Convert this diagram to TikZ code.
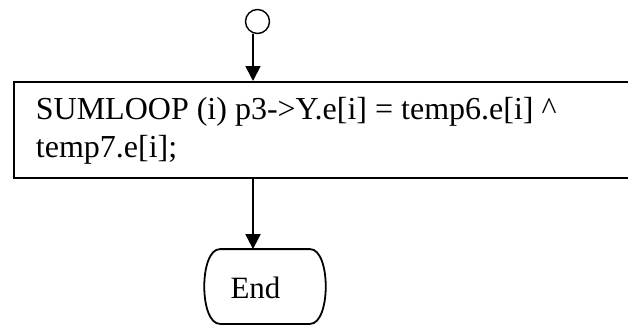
\documentclass[tikz,border=0pt]{standalone}
\usepackage{fontspec}
\setmainfont{Liberation Serif}
\usetikzlibrary{arrows.meta}
\begin{document}
\begin{tikzpicture}[x=1pt,y=1pt,
  line width=1.8pt,
  conn/.style={-{Triangle[length=15pt,width=15pt]}},
  txt/.style={font=\fontsize{31}{38}\selectfont,inner sep=0pt}]
\useasboundingbox (0,0) rectangle (628,-324);
\node[draw,circle,minimum size=24pt,inner sep=0pt,line width=1.4pt] (start) at (257.5,-21.5) {};
\node[draw,minimum width=640pt,minimum height=96pt,inner sep=0pt,anchor=north west] (box) at (13,-81) {};
\node[txt,font=\fontsize{32}{38}\selectfont,anchor=base west,align=left] (code) at (35,-157)
  {SUMLOOP (i) p3->Y.e[i] = temp6.e[i] \^{}\\temp7.e[i];};
\node[minimum width=122pt,minimum height=73pt,inner sep=0pt] (end) at (265,-286.5) {};
\node[txt] (endtxt) at (255.5,-287.5) {End};
\draw ([xshift=-45pt]end.north) -- ([xshift=45pt]end.north)
  .. controls ([xshift=66pt]end.north) and ([xshift=66pt]end.south) .. ([xshift=45pt]end.south)
  -- ([xshift=-45pt]end.south)
  .. controls ([xshift=-66pt]end.south) and ([xshift=-66pt]end.north) .. ([xshift=-45pt]end.north) -- cycle;
\draw[conn] (start.south -| 253,0) -- (box.north -| 253,0);
\draw[conn] (box.south -| 253,0) -- (end.north -| 253,0);
\end{tikzpicture}
\end{document}
